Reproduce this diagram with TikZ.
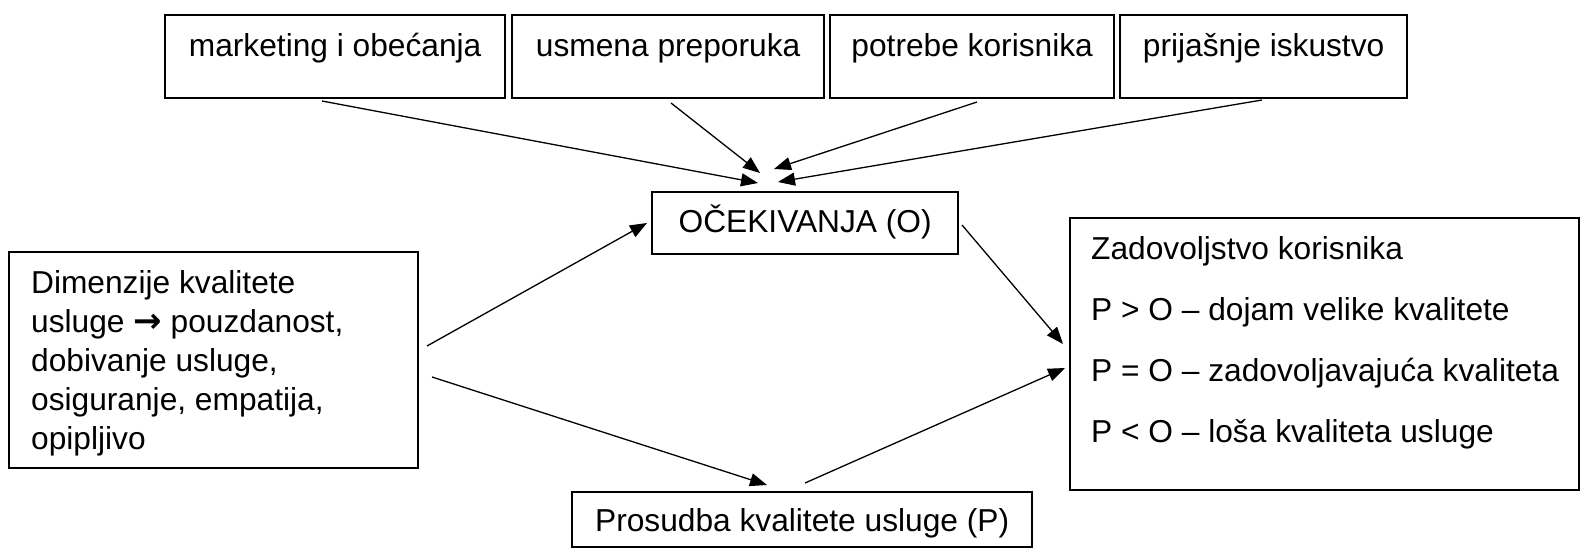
\documentclass[tikz,border=0pt]{standalone}
\usepackage{fontspec}
\setmainfont{Liberation Sans}
\newfontfamily\arrowfont{DejaVu Sans Bold}
\usetikzlibrary{arrows.meta}
\tikzset{
  box/.style={draw, line width=2.3pt, inner ysep=0pt, inner xsep=0pt, anchor=north west,
    font=\fontsize{31.7}{39}\selectfont},
  conn/.style={line width=1.3pt, -{Triangle[length=17pt,width=13pt]}}
}
\begin{document}
\begin{tikzpicture}[x=1pt,y=-1pt]
\useasboundingbox (0,0) rectangle (1582,548);
% top boxes
\node[box, minimum width=340pt, text height=41pt, text depth=42pt] (b1) at (164,14) {marketing i obećanja};
\node[box, minimum width=312pt, text height=41pt, text depth=42pt] (b2) at (511,14) {usmena preporuka};
\node[box, minimum width=284pt, text height=41pt, text depth=42pt] (b3) at (829,14) {potrebe korisnika};
\node[box, minimum width=287pt, text height=41pt, text depth=42pt] (b4) at (1119,14) {prijašnje iskustvo};
% middle
\node[box, minimum width=306pt, text height=40pt, text depth=22pt] (O) at (651,191) {OČEKIVANJA (O)};
\node[box, minimum width=460pt, text height=39pt, text depth=16pt] (P) at (571,491) {Prosudba kvalitete usluge (P)};
% left box
\node[box, inner xsep=22pt, minimum width=409pt, text height=41pt, text depth=175pt] (D) at (8,251)
  {\parbox[t]{365pt}{\fontsize{31.7}{39}\selectfont\raggedright
   Dimenzije kvalitete\\
   \mbox{usluge {\arrowfont\fontsize{34}{39}\selectfont →} pouzdanost,}\\
   dobivanje usluge,\\
   \mbox{osiguranje, empatija,}\\
   opipljivo}};
% right box
\node[box, inner xsep=21pt, minimum width=509pt, text height=41pt, text depth=231pt] (Z) at (1069,217)
  {\parbox[t]{467pt}{\fontsize{31.7}{61}\selectfont\raggedright
   \mbox{Zadovoljstvo korisnika}\\
   \mbox{P > O – dojam velike kvalitete}\\
   \mbox{P = O – zadovoljavajuća kvaliteta}\\
   \mbox{P < O – loša kvaliteta usluge}}};
% connector end points
\coordinate (s1) at (322,101); \coordinate (e1) at (758,183);
\coordinate (s2) at (671,103); \coordinate (e2) at (760,173);
\coordinate (s3) at (977,102); \coordinate (e3) at (774,169);
\coordinate (s4) at (1262,100); \coordinate (e4) at (778,182);
\coordinate (s5) at (427,346); \coordinate (e5) at (647,223);
\coordinate (s6) at (432,377); \coordinate (e6) at (767,485);
\coordinate (s7) at (962,225); \coordinate (e7) at (1063,344);
\coordinate (s8) at (805,483); \coordinate (e8) at (1065,368);
\draw[conn] (s1) -- (e1);
\draw[conn] (s2) -- (e2);
\draw[conn] (s3) -- (e3);
\draw[conn] (s4) -- (e4);
\draw[conn] (s5) -- (e5);
\draw[conn] (s6) -- (e6);
\draw[conn] (s7) -- (e7);
\draw[conn] (s8) -- (e8);
\end{tikzpicture}
\end{document}
